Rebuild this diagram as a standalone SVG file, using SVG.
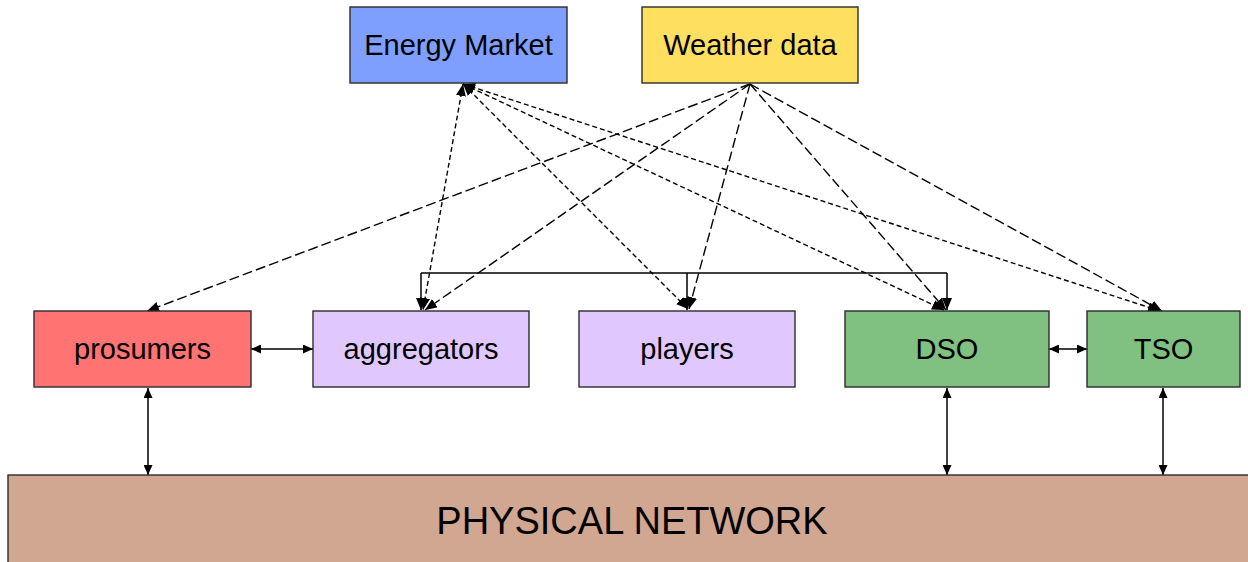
<svg xmlns="http://www.w3.org/2000/svg" width="1248" height="562" viewBox="0 0 1248 562">
  <style>
    .box { stroke: #2b2b2b; stroke-width: 1.4; }
    .lbl { font-family: "Liberation Sans", Arial, sans-serif; font-size: 29px; fill: #000; text-anchor: middle; }
    .big { font-family: "Liberation Sans", Arial, sans-serif; font-size: 38px; fill: #000; text-anchor: middle; }
    .solid { stroke: #000; stroke-width: 1.5; fill: none; }
    .mkt { stroke: #000; stroke-width: 1.4; fill: none; stroke-dasharray: 5 3; }
    .wx { stroke: #000; stroke-width: 1.4; fill: none; stroke-dasharray: 10 4; }
  </style>
  <defs>
    <marker id="head" viewBox="0 0 12 10" refX="12" refY="5" markerWidth="12" markerHeight="10" markerUnits="userSpaceOnUse" orient="auto-start-reverse">
      <path d="M0,0 L12,5 L0,10 Z" fill="#000"/>
    </marker>
    <marker id="headSm" viewBox="0 0 10 9" refX="10" refY="4.5" markerWidth="10" markerHeight="9" markerUnits="userSpaceOnUse" orient="auto-start-reverse">
      <path d="M0,0 L10,4.5 L0,9 Z" fill="#000"/>
    </marker>
  </defs>
  <rect width="1248" height="562" fill="#fff"/>

  <!-- links -->
  <g id="connectors">
    <!-- market links (both ways) -->
    <line class="mkt" x1="463" y1="84" x2="423" y2="310" marker-start="url(#head)" marker-end="url(#head)"/>
    <line class="mkt" x1="463" y1="84" x2="688" y2="309" marker-start="url(#head)" marker-end="url(#head)"/>
    <line class="mkt" x1="463" y1="84" x2="944" y2="310" marker-start="url(#head)" marker-end="url(#head)"/>
    <line class="mkt" x1="463" y1="84" x2="1160" y2="311" marker-start="url(#head)" marker-end="url(#head)"/>
    <!-- weather feeds -->
    <line class="wx" x1="750" y1="84" x2="147" y2="311" marker-end="url(#head)"/>
    <line class="wx" x1="750" y1="84" x2="425" y2="310" marker-end="url(#head)"/>
    <line class="wx" x1="750" y1="84" x2="689" y2="309" marker-end="url(#head)"/>
    <line class="wx" x1="750" y1="84" x2="946" y2="310" marker-end="url(#head)"/>
    <line class="wx" x1="750" y1="84" x2="1162" y2="311" marker-end="url(#head)"/>
    <!-- bracket between aggregators, players and DSO -->
    <line class="solid" x1="421" y1="273" x2="947" y2="273"/>
    <line class="solid" x1="421" y1="273" x2="421" y2="310" marker-end="url(#head)"/>
    <line class="solid" x1="687" y1="273" x2="687" y2="310" marker-end="url(#head)"/>
    <line class="solid" x1="947" y1="273" x2="947" y2="310" marker-end="url(#head)"/>
    <!-- horizontal links -->
    <line class="solid" x1="251" y1="349" x2="313" y2="349" marker-start="url(#headSm)" marker-end="url(#headSm)"/>
    <line class="solid" x1="1049" y1="349" x2="1087" y2="349" marker-start="url(#headSm)" marker-end="url(#headSm)"/>
    <!-- links to the physical network -->
    <line class="solid" x1="148" y1="388" x2="148" y2="475" marker-start="url(#headSm)" marker-end="url(#headSm)"/>
    <line class="solid" x1="947" y1="388" x2="947" y2="475" marker-start="url(#headSm)" marker-end="url(#headSm)"/>
    <line class="solid" x1="1163" y1="388" x2="1163" y2="475" marker-start="url(#headSm)" marker-end="url(#headSm)"/>
  </g>

  <g id="energy-market">
    <rect class="box" x="350" y="7" width="217" height="76" fill="#7f9fff"/>
    <text class="lbl" x="458.5" y="55">Energy Market</text>
  </g>
  <g id="weather-data">
    <rect class="box" x="642" y="7" width="216" height="76" fill="#ffdf60"/>
    <text class="lbl" x="750" y="55">Weather data</text>
  </g>
  <g id="prosumers">
    <rect class="box" x="34" y="311" width="217" height="76" fill="#ff7373"/>
    <text class="lbl" x="142.5" y="359">prosumers</text>
  </g>
  <g id="aggregators">
    <rect class="box" x="313" y="311" width="216" height="76" fill="#e0c8ff"/>
    <text class="lbl" x="421" y="359">aggregators</text>
  </g>
  <g id="players">
    <rect class="box" x="579" y="311" width="216" height="76" fill="#e0c8ff"/>
    <text class="lbl" x="687" y="359">players</text>
  </g>
  <g id="dso">
    <rect class="box" x="845" y="311" width="204" height="76" fill="#80c080"/>
    <text class="lbl" x="947" y="359">DSO</text>
  </g>
  <g id="tso">
    <rect class="box" x="1087" y="311" width="153" height="76" fill="#80c080"/>
    <text class="lbl" x="1163.5" y="359">TSO</text>
  </g>
  <g id="physical-network">
    <rect class="box" x="8" y="475" width="1250" height="95" fill="#d2a791"/>
    <text class="big" x="632" y="534">PHYSICAL NETWORK</text>
  </g>
</svg>
